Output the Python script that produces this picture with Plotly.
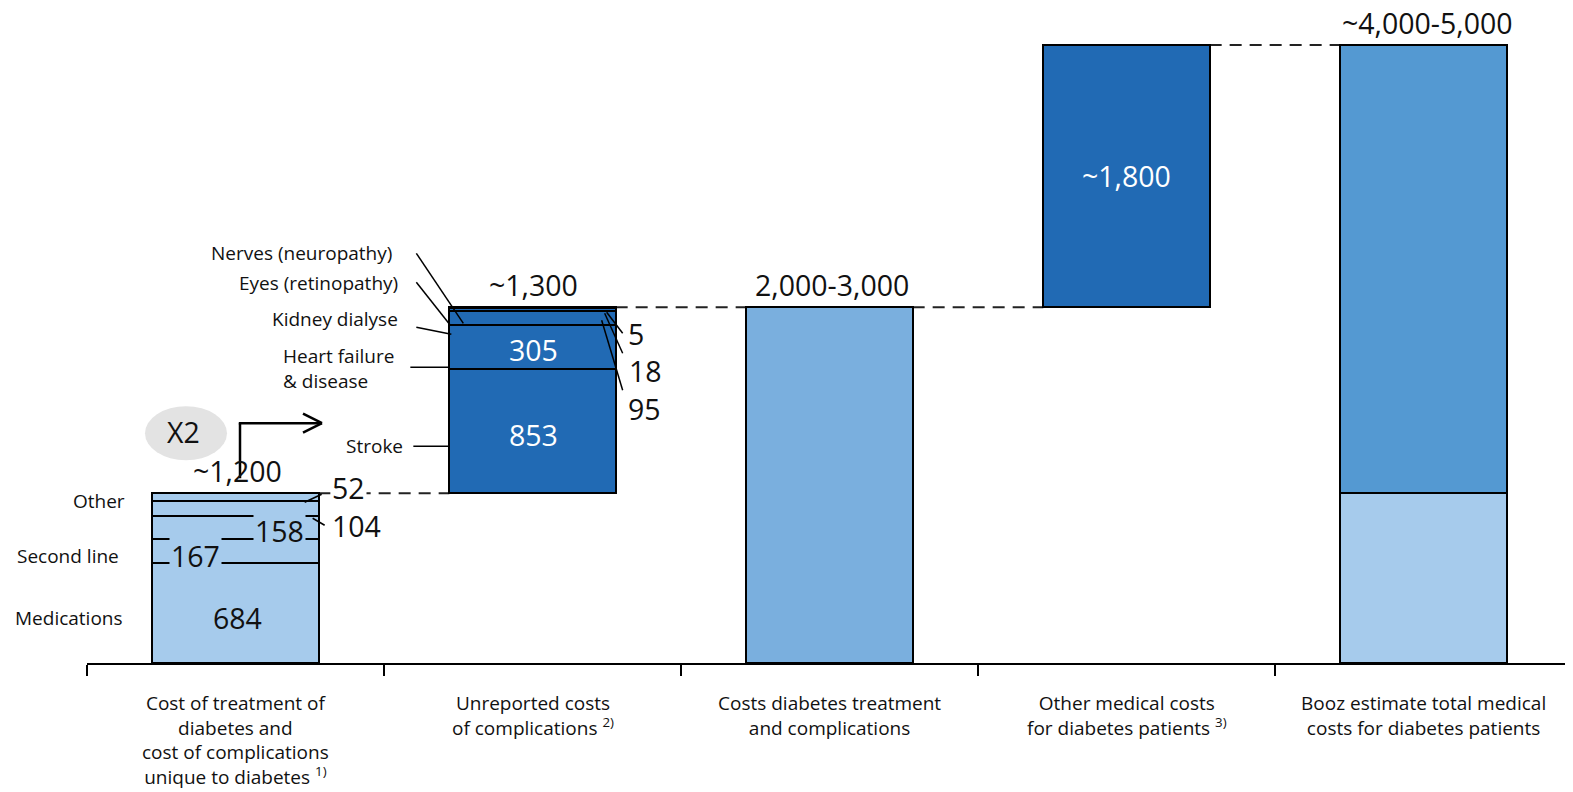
import plotly.graph_objects as go

# ---------------- data ----------------
categories = [
    "Cost of treatment of<br>diabetes and<br>cost of complications<br>unique to diabetes <sup>1)</sup>",
    "Unreported costs<br>of complications <sup>2)</sup>",
    "Costs diabetes treatment<br>and complications",
    "Other medical costs<br>for diabetes patients <sup>3)</sup>",
    "Booz estimate total medical<br>costs for diabetes patients",
]
total_labels = ["~1,200", "~1,300", "2,000-3,000", "~1,800", "~4,000-5,000"]

treatment_names = ["Medications", "Second line", "", "", "Other"]
treatment_values = [684, 167, 158, 104, 52]

complication_names = ["Stroke", "Heart failure<br>& disease", "Kidney dialyse",
                      "Eyes (retinopathy)", "Nerves (neuropathy)"]
complication_values = [853, 305, 95, 18, 5]

other_medical = 1800
multiplier_label = "X2"

# ---------------- styling / layout constants ----------------
# the page body has an 8px margin, so the figure is offset by it
W, H = 1565, 784
ML, MR, MT, MB = 79, 0, 0, 129
PX_X = 297.0                      # pixels per category
SCALE = 663.0 / 4550.0            # pixels per value unit
PW = W - ML - MR
PH = H - MT - MB
YMAX = PH / SCALE
XMAX = -0.5 + PW / PX_X
BAR_W = 0.56
LIGHT = "#A6CBEC"
DARK = "#216AB4"
MID3 = "#7AAFDE"
MID5 = "#5499D2"
INK = "#111111"
FONT = "Open Sans"
VAL_SIZE = 28.5
LAB_SIZE = 19
PX_Y = SCALE


def xo(x, dx):
    return x + dx / PX_X


def yo(y, dy):  # dy pixels downward on screen
    return y - dy / PX_Y


t1 = sum(treatment_values)
t2 = t1 + sum(complication_values)
t4 = t2 + other_medical
half = BAR_W / 2

fig = go.Figure()
line_style = dict(color="black", width=2)


def add_bar(x, v, base, color):
    fig.add_trace(go.Bar(x=[x], y=[v], base=[base], width=BAR_W,
                         marker=dict(color=color, line=line_style),
                         hoverinfo="skip", showlegend=False))


# bar 1: treatment segments
cum = 0
seg1_mid = []
for v in treatment_values:
    add_bar(0, v, cum, LIGHT)
    seg1_mid.append(cum + v / 2)
    cum += v
# bar 2: complications
cum = t1
seg2_mid = []
for v in complication_values:
    add_bar(1, v, cum, DARK)
    seg2_mid.append(cum + v / 2)
    cum += v
# bar 3, 4, 5
add_bar(2, t2, 0, MID3)
add_bar(3, other_medical, t2, DARK)
add_bar(4, t1, 0, LIGHT)
add_bar(4, t4 - t1, t1, MID5)

shapes = []
dash = dict(color="#222222", width=2, dash="12px,8px")
# connectors
for (xa, xb, yv) in [(0, 1, t1), (1, 2, t2), (2, 3, t2), (3, 4, t4)]:
    shapes.append(dict(type="line", xref="x", yref="y", x0=xa + half, x1=xb - half,
                       y0=yv, y1=yv, line=dash, layer="below"))


def seg(xa, dxa, ya, dya, xb, dxb, yb, dyb, w=1.5):
    shapes.append(dict(type="line", xref="x", yref="y",
                       x0=xo(xa, dxa), y0=yo(ya, dya), x1=xo(xb, dxb), y1=yo(yb, dyb),
                       line=dict(color="black", width=w)))


b1L, b1R = -half, half
b2L, b2R = 1 - half, 1 + half

# bar 2 right-side leaders (5, 18, 95)
seg(b2R, -9, t2, 5, b2R, 7, t2, 26)
seg(b2R, -11, t2, 6, b2R, 7, t2, 46)
seg(b2R, -14, t2, 13, b2R, 7, t2, 83)
# bar 2 left-side leaders
seg(b2L, -33, t2, -54, b2L, 14, t2, 16)   # nerves
seg(b2L, -33, t2, -25, b2L, 1, t2, 18)    # eyes
seg(b2L, -33, t2, 20, b2L, 2, t2, 27)     # kidney
seg(b2L, -39, t2, 60, b2L, 0, t2, 60)     # heart
seg(b2L, -36, t1, -47, b2L, 0, t1, -47)   # stroke
# bar 1 right-side leaders (52, 104)
seg(b1R, -14, t1, 9, b1R, 3, t1, 1)
seg(b1R, -6, t1, 25, b1R, 6, t1, 32)

# X2 ellipse
shapes.append(dict(type="circle", xref="x", yref="y",
                   x0=xo(0, -49.5 - 41), x1=xo(0, -49.5 + 41),
                   y0=yo(t1, -60 - 27), y1=yo(t1, -60 + 27),
                   fillcolor="#E3E3E3", line=dict(width=0), layer="below"))
# elbow arrow
seg(0, 4.5, t1, -15, 0, 4.5, t1, -70, w=2.5)
seg(0, 3.3, t1, -70, 0, 86.5, t1, -70, w=2.5)
seg(0, 67.5, t1, -79.5, 0, 86.5, t1, -70, w=2.5)
seg(0, 67.5, t1, -60.5, 0, 86.5, t1, -70, w=2.5)

ann = []


def text(x, y, s, size=VAL_SIZE, color=INK, xanchor="center", yanchor="middle",
         align="center", bg=None, pad=0):
    d = dict(x=x, y=y, xref="x", yref="y", text=s, showarrow=False,
             font=dict(family=FONT, size=size, color=color),
             xanchor=xanchor, yanchor=yanchor, align=align, borderpad=pad)
    if bg:
        d["bgcolor"] = bg
    ann.append(d)


# totals
tops = [t1, t2, t2, t4, t4]
tot_dx = [1.5, 1, 2, 0, 3.5]
for i, (lab, top) in enumerate(zip(total_labels, tops)):
    if i == 3:
        text(i, (t2 + t4) / 2, lab, color="white")
    else:
        text(xo(i, tot_dx[i]), yo(top, -22), lab)

# bar 1 inside labels
text(xo(0, 1.5), yo(seg1_mid[0], 5), str(treatment_values[0]))
text(xo(0, -40.5), yo(seg1_mid[1], 5), str(treatment_values[1]), bg=LIGHT, pad=1)
text(xo(0, 43.5), yo(seg1_mid[2], 4), str(treatment_values[2]), bg=LIGHT, pad=1)
# bar 1 right labels
text(xo(b1R, 11), yo(t1, -5), str(treatment_values[4]), xanchor="left", bg="white", pad=1)
text(xo(b1R, 12), yo(t1, 33), str(treatment_values[3]), xanchor="left")
# bar 1 left labels
text(xo(b1L, -26), yo(t1, 8), treatment_names[4], size=LAB_SIZE, xanchor="right")
text(xo(b1L, -32), yo(seg1_mid[1], 5), treatment_names[1], size=LAB_SIZE, xanchor="right")
text(xo(b1L, -28), yo(seg1_mid[0], 5), treatment_names[0], size=LAB_SIZE, xanchor="right")
# X2
text(xo(0, -52), yo(t1, -61), multiplier_label)

# bar 2 inside labels
text(xo(1, 1), yo(seg2_mid[0], 4), str(complication_values[0]), color="white")
text(xo(1, 1), yo(seg2_mid[1], 3), str(complication_values[1]), color="white")
# bar 2 right labels
text(xo(b2R, 11), yo(t2, 27), str(complication_values[4]), xanchor="left")
text(xo(b2R, 12), yo(t2, 64), str(complication_values[3]), xanchor="left")
text(xo(b2R, 11), yo(t2, 102), str(complication_values[2]), xanchor="left")
# bar 2 left labels
text(xo(b2L, -56), yo(t2, -54), complication_names[4], size=LAB_SIZE, xanchor="right")
text(xo(b2L, -50), yo(t2, -24), complication_names[3], size=LAB_SIZE, xanchor="right")
text(xo(b2L, -50), yo(t2, 12), complication_names[2], size=LAB_SIZE, xanchor="right")
text(xo(b2L, -167), yo(t2, 61), complication_names[1], size=LAB_SIZE, xanchor="left", align="left")
text(xo(b2L, -45), yo(t1, -47), complication_names[0], size=LAB_SIZE, xanchor="right")

# category labels
for i, c in enumerate(categories):
    ann.append(dict(x=i, y=0, xref="x", yref="y", text=c, showarrow=False,
                    xanchor="center", yanchor="top", yshift=-25, align="center",
                    font=dict(family=FONT, size=LAB_SIZE, color=INK)))

fig.update_layout(
    width=W, height=H,
    margin=dict(l=ML, r=MR, t=MT, b=MB),
    paper_bgcolor="white", plot_bgcolor="white",
    barmode="overlay", bargap=0,
    shapes=shapes, annotations=ann,
    xaxis=dict(range=[-0.5, XMAX], showgrid=False, zeroline=False,
               showline=True, linecolor="black", linewidth=2,
               tickvals=[-0.5, 0.5, 1.5, 2.5, 3.5], ticks="outside",
               ticklen=11, tickwidth=2, tickcolor="black",
               showticklabels=False, fixedrange=True),
    yaxis=dict(range=[0, YMAX], visible=False, fixedrange=True),
    showlegend=False,
)

fig.write_html("out.html")
